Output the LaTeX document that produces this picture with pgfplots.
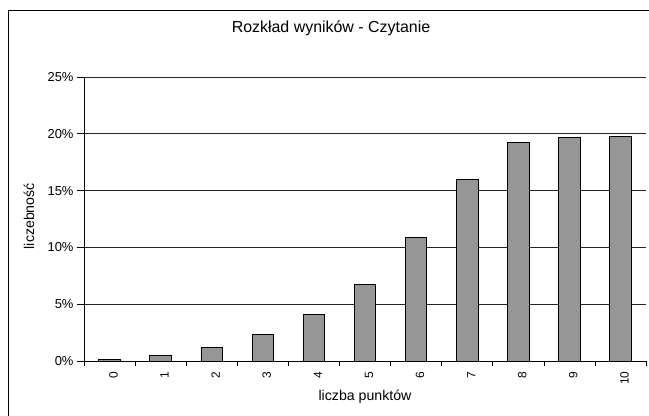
\documentclass[border=0pt]{standalone}
\usepackage{pgfplots}
\pgfplotsset{compat=1.18}
\usepackage{fontspec}
\setmainfont{Liberation Sans}

\definecolor{bargray}{RGB}{150,150,150}

\begin{document}
\begin{tikzpicture}
    % page and chart frame
    \useasboundingbox (0,0) rectangle (649bp,416bp);
    \draw[line width=0.8bp] (8bp,-5bp) rectangle (660bp,406bp);

    \begin{axis}[
        % Placement and size
        at                 = {(84bp,55bp)},
        anchor             = south west,
        scale only axis,
        width              = 562bp,
        height             = 284bp,
        % Bars
        ybar,
        bar width          = 21.5bp,
        % Axes
        xmin = -0.5, xmax = 10.5,
        ymin = 0,    ymax = 25,
        axis x line*       = bottom,
        axis y line*       = left,
        axis line style    = {line width=0.6bp, black},
        xtick              = {0,...,10},
        minor xtick        = {-0.5,0.5,...,10.5},
        ytick              = {0,5,...,25},
        yticklabel         = {\pgfmathprintnumber{\tick}\%},
        major x tick style = {draw=none},
        minor x tick style = {line width=0.6bp, black},
        y tick style       = {line width=0.6bp, black},
        tick align         = outside,
        major tick length  = 7bp,
        minor tick length  = 5bp,
        /pgf/number format/assume math mode = true,
        x tick label style = {rotate=90, anchor=east, font=\fontsize{12}{12}\selectfont, yshift=-4bp},
        y tick label style = {font=\fontsize{13}{13}\selectfont},
        % Grid
        ymajorgrids        = true,
        grid style         = {line width=0.6bp, black!85},
        % Labels
        title              = {Rozkład wyników - Czytanie},
        title style        = {at={(0.4395,1.151)}, anchor=center, font=\fontsize{16}{16}\selectfont},
        xlabel             = {liczba punktów},
        xlabel style       = {at={(0.5,-0.127)}, anchor=center, font=\fontsize{14.2}{14.2}\selectfont},
        ylabel             = {liczebność},
        ylabel style       = {at={(-0.098,0.51)}, anchor=center, font=\fontsize{14.2}{14.2}\selectfont},
    ]
        \addplot+[
            fill       = bargray,
            draw       = black,
            line width = 0.8bp,
            bar shift  = 0pt
        ] coordinates {
            (0,  0.15)
            (1,  0.5)
            (2,  1.2)
            (3,  2.3)
            (4,  4.1)
            (5,  6.7)
            (6, 10.9)
            (7, 16.0)
            (8, 19.2)
            (9, 19.65)
            (10,19.8)
        };
    \end{axis}
\end{tikzpicture}
\end{document}
